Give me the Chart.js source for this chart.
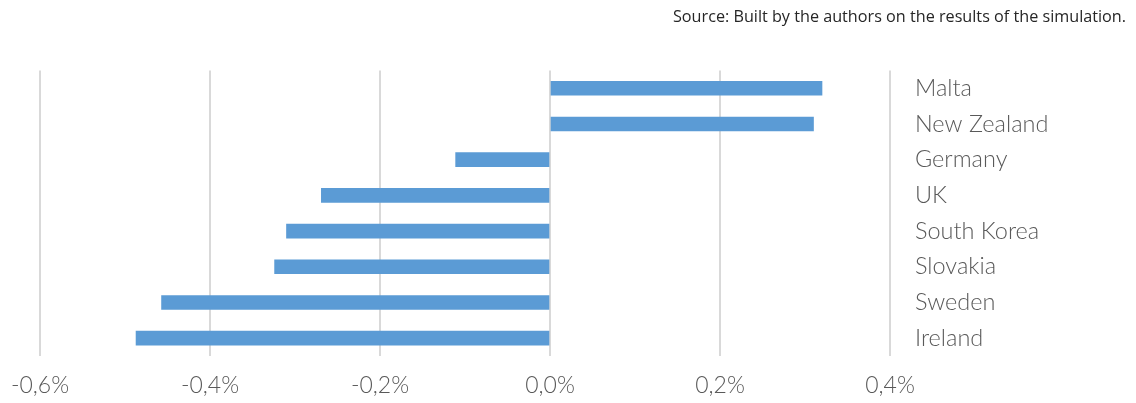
<!DOCTYPE html>
<html>
<head>
<meta charset="utf-8">
<script src="https://cdn.jsdelivr.net/npm/chart.js@4.4.0/dist/chart.umd.min.js"></script>
<style>
  html, body { margin: 0; padding: 0; background: #fff; }
  #wrap { width: 1136px; height: 403px; position: relative; }
</style>
</head>
<body>
<div id="wrap"><canvas id="chart"></canvas></div>
<script>
// data (values in %)
const countries = ['Malta', 'New Zealand', 'Germany', 'UK', 'South Korea', 'Slovakia', 'Sweden', 'Ireland'];
const changes   = [0.320, 0.310, -0.111, -0.269, -0.310, -0.324, -0.457, -0.487];
const xTicks    = [-0.6, -0.4, -0.2, 0.0, 0.2, 0.4];
const sourceNote = 'Source: Built by the authors on the results of the simulation.';

const grey = '#595959';

function pct(v) {
  if (Math.abs(v) < 1e-9) v = 0;
  return v.toFixed(1).replace('.', ',') + '%';
}

new Chart(document.getElementById('chart'), {
  type: 'bar',
  data: {
    labels: countries,
    datasets: [{
      data: changes,
      backgroundColor: '#5b9bd5',
      borderWidth: 0,
      barThickness: 14
    }]
  },
  options: {
    indexAxis: 'y',
    responsive: true,
    maintainAspectRatio: false,
    animation: false,
    layout: { padding: { left: 40, right: 10, top: 0, bottom: 0 } },
    plugins: {
      legend: { display: false },
      tooltip: { enabled: false },
      title: {
        display: true,
        text: sourceNote,
        align: 'end',
        color: '#262626',
        font: { family: 'Open Sans', size: 16.2, weight: 'normal' },
        padding: { top: 8, bottom: 43 }
      }
    },
    scales: {
      x: {
        min: -0.6,
        max: 0.4,
        afterBuildTicks: s => { s.ticks = xTicks.map(v => ({ value: v })); },
        grid: { color: '#d9d9d9', lineWidth: 2, drawTicks: false },
        border: { display: false },
        ticks: {
          color: grey,
          padding: 16,
          font: { family: 'Lato', size: 23, weight: 300 },
          callback: v => pct(v)
        },
        afterFit: s => { s.height = 47; s.paddingLeft = 0; s.paddingRight = 0; }
      },
      y: {
        position: 'right',
        grid: { display: false },
        border: { display: false },
        ticks: {
          color: grey,
          padding: 17,
          font: { family: 'Lato', size: 23.5, weight: 300 },
          crossAlign: 'near'
        },
        afterFit: s => { s.width = 236; }
      }
    }
  }
});
</script>
</body>
</html>
